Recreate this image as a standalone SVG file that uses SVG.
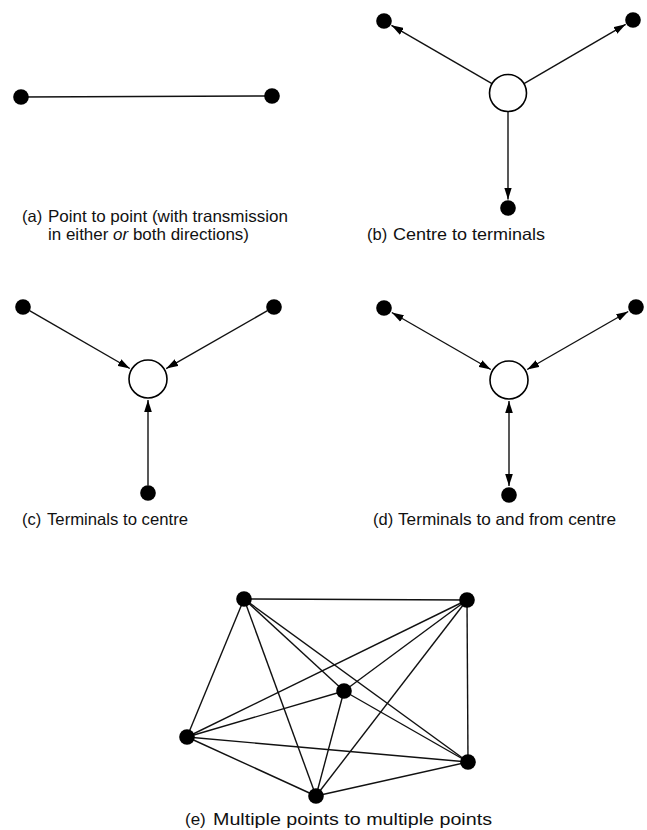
<svg xmlns="http://www.w3.org/2000/svg" width="647" height="830" viewBox="0 0 647 830">
<style>
.dot{fill:#000}
.hub{fill:#fff;stroke:#000;stroke-width:1.6}
.ln{stroke:#111;stroke-width:1.4;fill:none}
.lbl{font-family:"Liberation Sans",Arial,sans-serif;font-size:16.5px;fill:#111}
</style>
<defs>
<marker id="ah" markerUnits="userSpaceOnUse" markerWidth="12" markerHeight="8" viewBox="0 0 11 7" refX="11" refY="3.5" orient="auto-start-reverse">
<path d="M0,0 L11,3.5 L0,7 z" fill="#000"/>
</marker>
</defs>
<rect width="647" height="830" fill="#fff"/>

<g id="connectors">
<!-- (a) -->
<line class="ln" x1="21" y1="97" x2="272" y2="96"/>
<!-- (b) -->
<line class="ln" x1="492" y1="83.7" x2="391.4" y2="25.3" marker-end="url(#ah)"/>
<line class="ln" x1="524" y1="83.7" x2="625.7" y2="24.3" marker-end="url(#ah)"/>
<line class="ln" x1="508" y1="111.5" x2="508" y2="199.5" marker-end="url(#ah)"/>
<!-- (c) -->
<line class="ln" x1="29.5" y1="310.7" x2="129.8" y2="368.5" marker-end="url(#ah)"/>
<line class="ln" x1="267.5" y1="310.7" x2="166.2" y2="368.6" marker-end="url(#ah)"/>
<line class="ln" x1="148" y1="485.5" x2="148" y2="400" marker-end="url(#ah)"/>
<!-- (d) -->
<line class="ln" x1="391.8" y1="312.5" x2="490.8" y2="369.5" marker-start="url(#ah)" marker-end="url(#ah)"/>
<line class="ln" x1="628.2" y1="311.5" x2="527.2" y2="369.5" marker-start="url(#ah)" marker-end="url(#ah)"/>
<line class="ln" x1="509" y1="486" x2="509" y2="401" marker-start="url(#ah)" marker-end="url(#ah)"/>
<!-- (e) complete graph -->
<line class="ln" x1="244" y1="599" x2="467" y2="600"/>
<line class="ln" x1="244" y1="599" x2="344" y2="691"/>
<line class="ln" x1="244" y1="599" x2="187" y2="737"/>
<line class="ln" x1="244" y1="599" x2="468" y2="762"/>
<line class="ln" x1="244" y1="599" x2="316" y2="796"/>
<line class="ln" x1="467" y1="600" x2="344" y2="691"/>
<line class="ln" x1="467" y1="600" x2="187" y2="737"/>
<line class="ln" x1="467" y1="600" x2="468" y2="762"/>
<line class="ln" x1="467" y1="600" x2="316" y2="796"/>
<line class="ln" x1="344" y1="691" x2="187" y2="737"/>
<line class="ln" x1="344" y1="691" x2="468" y2="762"/>
<line class="ln" x1="344" y1="691" x2="316" y2="796"/>
<line class="ln" x1="187" y1="737" x2="468" y2="762"/>
<line class="ln" x1="187" y1="737" x2="316" y2="796"/>
<line class="ln" x1="468" y1="762" x2="316" y2="796"/>
</g>

<g id="a-left"><circle class="dot" cx="21" cy="97" r="7.8"/></g>
<g id="a-right"><circle class="dot" cx="272" cy="96" r="7.8"/></g>

<g id="b-centre"><circle class="hub" cx="508" cy="93" r="18.5"/></g>
<g id="b-t1"><circle class="dot" cx="384" cy="21" r="7.8"/></g>
<g id="b-t2"><circle class="dot" cx="633" cy="20" r="7.8"/></g>
<g id="b-t3"><circle class="dot" cx="508" cy="208" r="7.8"/></g>

<g id="c-centre"><circle class="hub" cx="148" cy="379" r="19"/></g>
<g id="c-t1"><circle class="dot" cx="23" cy="307" r="7.8"/></g>
<g id="c-t2"><circle class="dot" cx="274" cy="307" r="7.8"/></g>
<g id="c-t3"><circle class="dot" cx="148" cy="493" r="7.8"/></g>

<g id="d-centre"><circle class="hub" cx="509" cy="380" r="19"/></g>
<g id="d-t1"><circle class="dot" cx="384" cy="308" r="7.8"/></g>
<g id="d-t2"><circle class="dot" cx="636" cy="307" r="7.8"/></g>
<g id="d-t3"><circle class="dot" cx="509" cy="495" r="7.8"/></g>

<g id="e-n1"><circle class="dot" cx="244" cy="599" r="7.8"/></g>
<g id="e-n2"><circle class="dot" cx="467" cy="600" r="7.8"/></g>
<g id="e-n3"><circle class="dot" cx="344" cy="691" r="7.8"/></g>
<g id="e-n4"><circle class="dot" cx="187" cy="737" r="7.8"/></g>
<g id="e-n5"><circle class="dot" cx="468" cy="762" r="7.8"/></g>
<g id="e-n6"><circle class="dot" cx="316" cy="796" r="7.8"/></g>

<g id="labels" class="lbl">
<text x="22" y="222">(a)</text>
<text x="48" y="222" textLength="240" lengthAdjust="spacingAndGlyphs">Point to point (with transmission</text>
<text x="48" y="240" textLength="201" lengthAdjust="spacingAndGlyphs">in either <tspan font-style="italic">or</tspan> both directions)</text>
<text x="367" y="240">(b)</text>
<text x="393" y="240" textLength="152" lengthAdjust="spacingAndGlyphs">Centre to terminals</text>
<text x="22" y="525">(c)</text>
<text x="47" y="525" textLength="141" lengthAdjust="spacingAndGlyphs">Terminals to centre</text>
<text x="373" y="525">(d)</text>
<text x="398" y="525" textLength="218" lengthAdjust="spacingAndGlyphs">Terminals to and from centre</text>
<text x="185" y="825" font-size="17">(e)</text>
<text x="213" y="825" font-size="17" textLength="279" lengthAdjust="spacingAndGlyphs">Multiple points to multiple points</text>
</g>
</svg>
